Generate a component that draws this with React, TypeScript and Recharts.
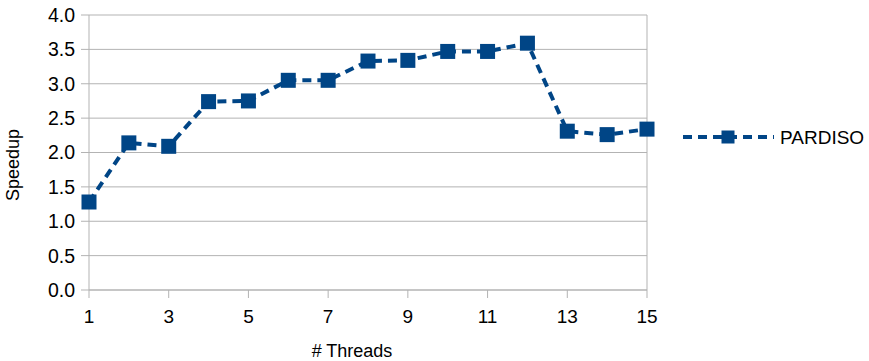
import React from 'react';
import { LineChart, Line, XAxis, YAxis, CartesianGrid, Label } from 'recharts';

// Threads and measured speedup
const threads = [1, 2, 3, 4, 5, 6, 7, 8, 9, 10, 11, 12, 13, 14, 15];
const speedup = [1.28, 2.14, 2.09, 2.74, 2.75, 3.05, 3.05, 3.33, 3.34, 3.47, 3.47, 3.59, 2.31, 2.26, 2.34];
const xTicks = [1, 3, 5, 7, 9, 11, 13, 15];
const yTicks = [0, 0.5, 1, 1.5, 2, 2.5, 3, 3.5, 4];
const seriesName = 'PARDISO';

const data = threads.map((t, i) => ({ t, v: speedup[i] }));

const BLUE = '#004586';
const GRID = '#b3b3b3';
const FONT = '"Liberation Sans", Arial, sans-serif';

const SquareDot = (props: any) => {
  const { cx, cy } = props;
  if (cx == null || cy == null) return null;
  return <rect x={cx - 7.5} y={cy - 7.5} width={15} height={15} fill={BLUE} />;
};

const App: React.FC = () => {
  return (
    <div style={{ position: 'absolute', left: 0, top: 0, width: 869, height: 361, background: '#fff', fontFamily: FONT }}>
      <LineChart width={869} height={361} data={data} margin={{ top: 15, right: 222, bottom: 0, left: 0 }}>
        <CartesianGrid vertical={false} stroke={GRID} strokeWidth={1} />
        <XAxis
          dataKey="t"
          type="number"
          domain={[1, 15]}
          ticks={xTicks}
          height={71}
          stroke={GRID}
          tickSize={8}
          tickMargin={12}
          tick={{ fill: '#000', fontSize: 19, fontFamily: FONT }}
        >
          <Label
            content={() => (
              <text x={352} y={357} textAnchor="middle" fontSize={18} fontFamily={FONT} fill="#000">
                # Threads
              </text>
            )}
          />
        </XAxis>
        <YAxis
          type="number"
          domain={[0, 4]}
          ticks={yTicks}
          width={89}
          stroke={GRID}
          tickSize={8}
          tickMargin={6}
          tickFormatter={(v: number) => v.toFixed(1)}
          tick={{ fill: '#000', fontSize: 19.5, fontFamily: FONT }}
        >
          <Label
            content={() => (
              <text x={19} y={165} transform="rotate(-90 19 165)" textAnchor="middle" fontSize={18} fontFamily={FONT} fill="#000">
                Speedup
              </text>
            )}
          />
        </YAxis>
        <Line
          type="linear"
          dataKey="v"
          name={seriesName}
          stroke={BLUE}
          strokeWidth={4}
          strokeDasharray="9 6"
          dot={<SquareDot />}
          activeDot={false}
          isAnimationActive={false}
        />
        {/* right border of the plot area */}
        <CartesianGrid horizontal={false} verticalPoints={[647]} stroke={GRID} />
      </LineChart>
      <svg style={{ position: 'absolute', left: 680, top: 125 }} width={189} height={26}>
        <line x1={3} y1={12} x2={94} y2={12} stroke={BLUE} strokeWidth={4} strokeDasharray="9 6" />
        <rect x={41.5} y={5.5} width={13} height={13} fill={BLUE} />
        <text x={100} y={19} fontSize={19} fontFamily={FONT} fill="#000">{seriesName}</text>
      </svg>
    </div>
  );
};

export default App;
